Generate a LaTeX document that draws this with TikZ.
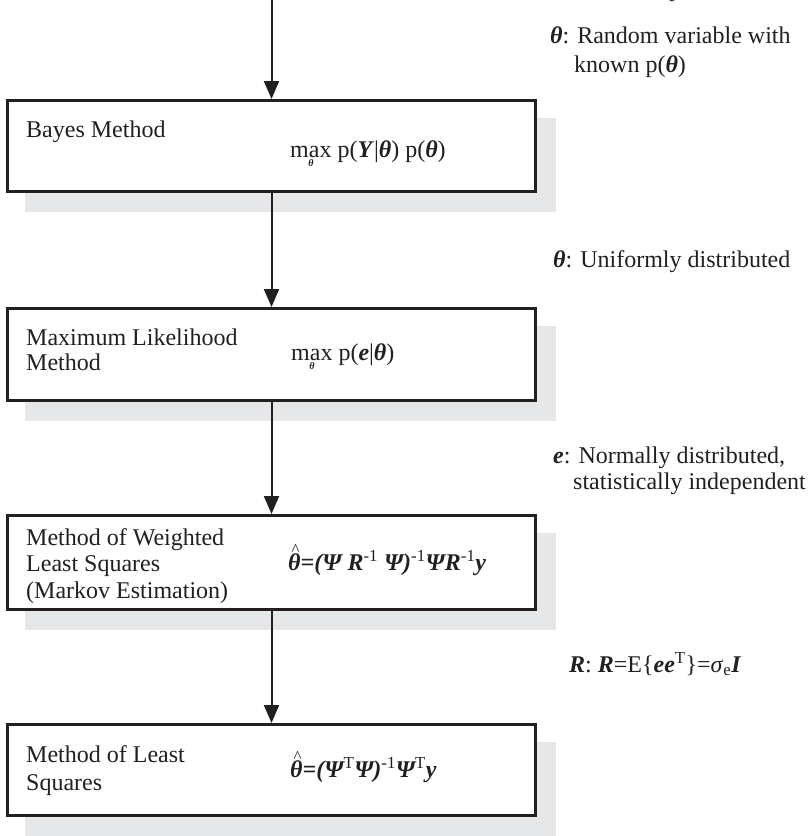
\documentclass[tikz,border=0pt]{standalone}
\usepackage{fontspec}
\setmainfont{Liberation Serif}
\usetikzlibrary{arrows.meta}
\definecolor{ink}{HTML}{231F20}
\definecolor{shade}{HTML}{E6E7E8}
\newcommand{\bi}[1]{\textbf{\textit{#1}}}
\newcommand{\sps}[1]{\textsuperscript{\normalfont #1}}
\newcommand{\maxth}{\(\mathop{\hbox{max}}\limits_{\raisebox{-3bp}{\fontsize{10bp}{10bp}\selectfont\bfseries\itshape θ}}\)}
\newcommand{\thhat}{\makebox[0pt][l]{\hspace{3.5bp}\raisebox{14.5bp}{\normalfont\fontsize{17bp}{17bp}\selectfont\textasciicircum}}θ}
\begin{document}
\begin{tikzpicture}[x=1bp,y=-1bp,
  font=\fontsize{24bp}{28bp}\selectfont,
  methodbox/.style={draw=ink, line width=3bp, fill=white, minimum width=528bp, inner sep=0pt, outer sep=0pt},
  shadowbox/.style={fill=shade, minimum width=531bp, inner sep=0pt, outer sep=0pt},
  txt/.style={anchor=base west, inner sep=0pt, text=ink},
  flow/.style={draw=ink, line width=2bp, -{Triangle[length=18bp,width=15bp]}, shorten >=1.5bp}]
\useasboundingbox (0,0) rectangle (812,836);
% shadows
\node[shadowbox, minimum height=94bp] (s1) at (290.5,165) {};
\node[shadowbox, minimum height=95bp] (s2) at (290.5,373.5) {};
\node[shadowbox, minimum height=97bp] (s3) at (290.5,581.5) {};
\node[shadowbox, minimum height=94bp] (s4) at (290.5,789) {};
% boxes
\coordinate (top) at (271.5,0);
\node[methodbox, minimum height=91bp] (b1) at (271.5,146) {};
\node[methodbox, minimum height=92bp] (b2) at (271.5,354.5) {};
\node[methodbox, minimum height=94bp] (b3) at (271.5,562.5) {};
\node[methodbox, minimum height=91bp] (b4) at (271.5,770) {};
% connectors
\draw[flow] (top) -- (b1.north);
\draw[flow] (b1.south) -- (b2.north);
\draw[flow] (b2.south) -- (b3.north);
\draw[flow] (b3.south) -- (b4.north);
% box texts
\node[txt] (t1) at (26,137) {Bayes Method};
\node[txt] (f1) at (290,157) {\maxth\ p(\bi{Y}|\bi{θ}) p(\bi{θ})};
\node[txt] (t2a) at (26,345) {Maximum Likelihood};
\node[txt] (t2b) at (26,370) {Method};
\node[txt] (f2) at (291,360) {\maxth\ p(\bi{e}|\bi{θ})};
\node[txt] (t3a) at (26,545) {Method of Weighted};
\node[txt] (t3b) at (26,571) {Least Squares};
\node[txt] (t3c) at (26,598) {(Markov Estimation)};
\node[txt] (f3) at (288,570) {\bfseries\itshape \thhat=(Ψ R\sps{-1} Ψ)\sps{-1}ΨR\sps{-1}y};
\node[txt] (t4a) at (26,762) {Method of Least};
\node[txt] (t4b) at (26,790) {Squares};
\node[txt] (f4) at (290,777) {\bfseries\itshape \thhat=(Ψ\sps{T}Ψ)\sps{-1}Ψ\sps{T}y};
% condition labels
\node[txt] (l1a) at (550,43) {\bi{θ}: Random variable with};
\node[txt] (l1b) at (574,72) {known p(\bi{θ})};
\node[txt] (l2) at (553,267) {\bi{θ}: Uniformly distributed};
\node[txt] (l3a) at (553,463) {\bi{e}: Normally distributed,};
\node[txt] (l3b) at (573,489) {statistically independent};
\node[txt] (l4) at (569,672) {\bi{R}: \bi{R}=E\{\bi{ee}\sps{T}\}=\textit{σ}\textsubscript{e}\bi{I}};
% fragment of a line cut off at the top edge
\begin{scope}
\clip (0,0) rectangle (812,836);
\node[txt] (cut) at (669,-3) {p};
\end{scope}
\end{tikzpicture}
\end{document}
